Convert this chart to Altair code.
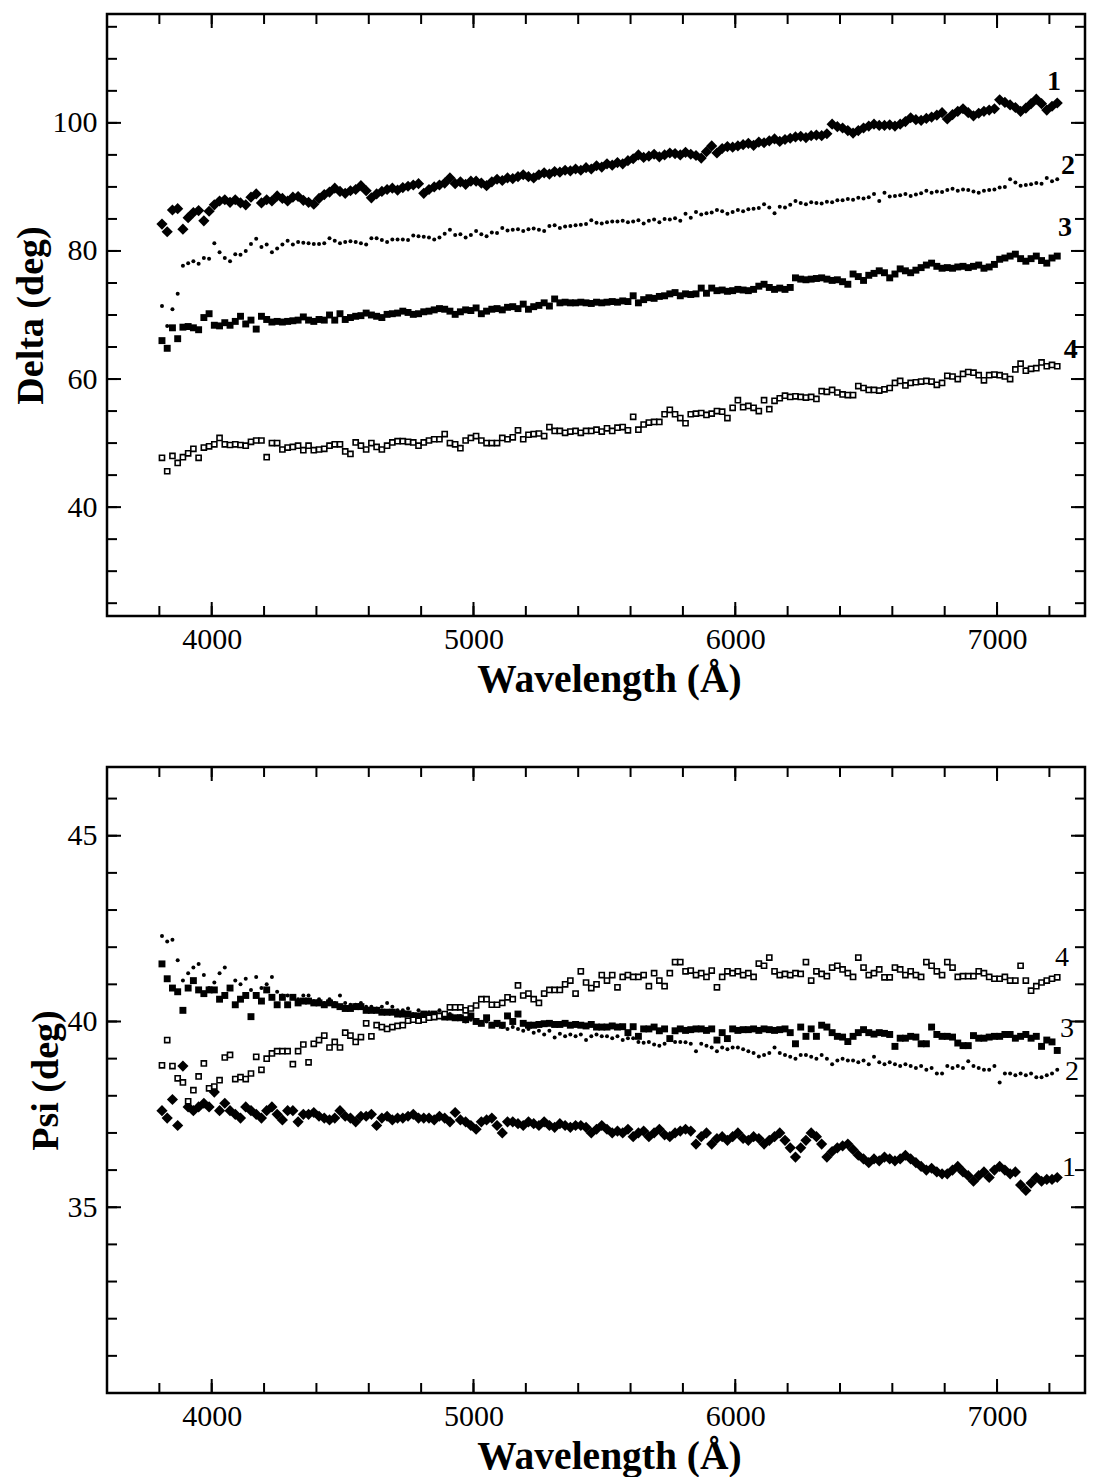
import altair as alt
import pandas as pd

# ---------------- data ----------------
WAVELENGTH = list(range(3810, 7231, 20))   # sampling grid, 172 points
SERIES = ["1", "2", "3", "4"]

DELTA_1 = [
    84.2, 83.0, 86.4, 86.6, 83.4, 85.2, 86.0, 86.3, 84.7, 86.2,
    87.2, 87.8, 88.0, 87.6, 88.0, 87.5, 87.2, 88.4, 88.9, 87.5,
    88.0, 87.8, 88.6, 88.2, 87.8, 88.4, 88.5, 87.9, 87.6, 87.3,
    88.2, 88.8, 89.2, 89.8, 89.3, 89.0, 89.4, 89.6, 90.2, 89.4,
    88.3, 88.9, 89.3, 89.6, 89.8, 89.5, 89.9, 90.1, 90.3, 90.5,
    89.0, 89.6, 90.0, 90.3, 90.6, 91.4, 90.5, 90.8, 90.4, 90.9,
    90.9, 90.6, 90.2, 90.8, 91.2, 91.0, 91.4, 91.3, 91.6, 91.9,
    91.6, 91.4, 91.9, 92.2, 92.0, 92.4, 92.3, 92.6, 92.5, 92.8,
    92.6, 93.0, 92.8, 93.3, 93.1, 93.6, 93.4, 93.8, 93.6, 94.1,
    94.4, 95.0, 94.6, 94.8, 95.1, 94.7, 95.0, 95.3, 95.2, 95.0,
    95.4, 95.1, 94.9, 94.5, 95.5, 96.4, 95.3, 96.0, 96.3, 96.2,
    96.4, 96.6, 96.8, 96.5, 97.0, 96.9, 97.2, 97.5, 97.1, 97.4,
    97.6, 97.8, 97.9, 97.7, 98.0, 98.1, 98.0, 98.3, 99.8, 99.4,
    99.2, 98.8, 98.4, 98.8, 99.2, 99.5, 99.8, 99.6, 99.6, 99.7,
    99.5, 99.8, 100.2, 100.8, 100.5, 100.4, 100.7, 100.9, 101.2, 101.6,
    100.6, 101.3, 101.8, 102.2, 101.6, 101.1, 101.5, 101.8, 102.0, 102.2,
    103.6, 103.2, 102.8, 102.4, 101.8, 102.3, 103.0, 103.7, 103.0, 102.0,
    102.6, 103.1,
]
DELTA_2 = [
    71.4, 68.3, 70.9, 73.3, 77.7, 78.1, 78.4, 78.0, 78.9, 78.8,
    81.2, 79.8, 78.9, 78.4, 79.5, 79.4, 80.0, 81.1, 81.9, 80.6,
    81.0, 79.8, 80.4, 81.0, 81.6, 81.0, 81.4, 81.3, 81.2, 81.1,
    81.1, 81.2, 82.0, 81.6, 81.2, 81.4, 81.5, 81.4, 81.2, 81.0,
    82.0, 82.0, 81.7, 81.4, 81.8, 81.8, 81.8, 81.7, 82.4, 82.3,
    82.2, 82.1, 81.8, 82.1, 82.7, 83.3, 82.5, 82.6, 82.1, 82.5,
    83.1, 82.6, 82.3, 82.9, 82.8, 83.6, 83.2, 83.3, 83.4, 83.1,
    83.4, 83.5, 83.3, 83.1, 83.9, 84.0, 83.6, 83.8, 83.9, 84.0,
    84.1, 84.2, 84.8, 84.4, 84.3, 84.5, 84.6, 84.6, 84.7, 84.5,
    84.6, 84.8, 84.3, 84.7, 84.9, 84.5, 85.0, 84.9, 85.1, 84.7,
    85.8, 85.2, 86.1, 85.7, 85.9, 86.0, 86.4, 86.2, 85.8, 86.1,
    86.4, 86.2, 86.5, 86.6, 86.7, 87.3, 86.8, 85.9, 86.9, 86.8,
    87.2, 87.8, 87.5, 87.3, 87.6, 87.5, 87.4, 87.7, 87.6, 87.9,
    87.9, 88.1, 88.0, 88.3, 88.2, 88.4, 88.9, 87.8, 89.1, 88.5,
    88.6, 88.7, 88.9, 88.6, 88.8, 89.0, 89.4, 89.1, 89.3, 89.2,
    89.5, 89.7, 89.4, 89.6, 89.5, 89.3, 89.1, 89.4, 89.5, 89.6,
    89.9, 90.0, 91.2, 90.7, 90.2, 90.3, 90.4, 90.6, 90.5, 91.4,
    90.9, 91.2,
]
DELTA_3 = [
    66.0, 64.8, 68.0, 66.3, 68.1, 68.2, 68.0, 67.7, 69.6, 70.2,
    68.4, 68.3, 68.8, 68.4, 69.0, 69.8, 68.6, 69.2, 67.8, 69.8,
    69.3, 68.9, 69.0, 68.9, 69.0, 69.1, 69.2, 69.7, 69.2, 69.0,
    69.3, 69.2, 70.0, 69.2, 70.2, 69.3, 69.6, 69.8, 69.9, 70.3,
    70.0, 69.8, 69.6, 70.1, 70.2, 70.3, 70.6, 70.4, 70.1, 70.2,
    70.5, 70.6, 70.8, 71.0, 70.9, 70.6, 70.1, 70.5, 70.8, 70.7,
    71.1, 70.2, 70.6, 70.9, 71.0, 70.8, 71.2, 71.3, 71.0, 71.7,
    70.9, 71.3, 71.5, 71.9, 71.4, 72.5, 71.9, 72.0, 71.9, 71.9,
    72.0, 71.9, 71.8, 72.0, 71.9, 72.0, 72.1, 72.0, 72.2, 72.1,
    73.0, 71.9, 72.4, 72.7, 72.6, 72.9, 73.0, 73.3, 73.5, 73.0,
    73.3, 73.2, 73.3, 74.2, 73.4, 74.2, 73.8, 73.9, 73.7, 73.8,
    74.0, 73.9, 73.8, 74.0, 74.5, 74.8, 74.3, 74.0, 74.2, 74.0,
    74.3, 75.8, 75.6, 75.5, 75.6, 75.7, 75.8, 75.6, 75.4, 75.5,
    75.2, 74.8, 76.4, 76.0, 75.4, 76.2, 76.5, 76.9, 76.6, 75.8,
    76.4, 77.2, 76.9, 76.6, 77.0, 77.4, 77.8, 78.1, 77.6, 77.3,
    77.4, 77.3, 77.5, 77.6, 77.4, 77.6, 77.8, 77.3, 77.5, 77.9,
    78.7, 78.9, 79.2, 79.5, 78.8, 78.4, 78.8, 79.2, 78.5, 78.1,
    78.9, 79.2,
]
DELTA_4 = [
    47.7, 45.6, 48.0, 46.9, 47.8, 48.4, 49.1, 47.7, 49.3, 49.5,
    49.8, 50.8, 49.8, 49.7, 49.8, 49.7, 49.6, 50.2, 50.4, 50.4,
    47.8, 50.0, 50.0, 49.0, 49.3, 49.4, 49.6, 48.9, 49.6, 48.9,
    49.0, 49.1, 49.6, 49.8, 49.8, 48.7, 48.3, 50.1, 49.6, 49.0,
    50.0, 49.4, 49.0, 49.6, 50.1, 50.3, 50.3, 50.2, 50.1, 49.6,
    50.1, 50.4, 50.6, 50.6, 51.4, 50.0, 49.8, 49.2, 50.4, 50.8,
    51.1, 50.4, 50.0, 50.0, 50.0, 50.8, 50.6, 50.9, 52.0, 50.6,
    51.3, 51.4, 51.5, 51.1, 52.5, 51.9, 51.9, 51.6, 51.8, 51.9,
    51.6, 51.9, 51.9, 52.1, 51.8, 52.3, 51.9, 52.4, 52.5, 52.0,
    54.1, 52.1, 52.9, 53.2, 53.3, 53.3, 54.5, 55.2, 54.5, 53.9,
    53.1, 54.5, 54.6, 54.7, 54.4, 54.6, 55.0, 54.9, 53.9, 55.5,
    56.7, 55.6, 55.8, 55.5, 55.0, 56.7, 55.3, 56.6, 57.0, 57.4,
    57.2, 57.3, 57.2, 57.1, 57.2, 56.9, 58.1, 58.0, 58.3, 57.9,
    57.6, 57.5, 57.5, 58.9, 58.6, 58.3, 58.3, 58.2, 58.4, 58.6,
    59.4, 59.7, 59.0, 59.4, 59.5, 59.6, 59.7, 59.6, 59.1, 59.4,
    60.5, 60.4, 60.0, 60.8, 61.1, 61.0, 60.6, 59.8, 60.6, 60.7,
    60.6, 60.4, 60.0, 61.5, 62.4, 61.3, 61.6, 61.7, 62.6, 62.0,
    62.2, 62.0,
]

PSI_1 = [
    37.6, 37.4, 37.9, 37.2, 38.8, 37.7, 37.6, 37.7, 37.8, 37.7,
    38.1, 37.6, 37.8, 37.6, 37.5, 37.4, 37.7, 37.6, 37.5, 37.4,
    37.6, 37.7, 37.5, 37.35, 37.6, 37.6, 37.3, 37.5, 37.5, 37.55,
    37.45, 37.4, 37.35, 37.4, 37.6, 37.45, 37.4, 37.3, 37.45, 37.45,
    37.5, 37.2, 37.4, 37.45, 37.35, 37.4, 37.4, 37.45, 37.5, 37.4,
    37.4, 37.4, 37.35, 37.45, 37.4, 37.3, 37.55, 37.35, 37.3, 37.2,
    37.1, 37.3, 37.35, 37.4, 37.2, 37.0, 37.3, 37.3, 37.25, 37.2,
    37.3, 37.25, 37.2, 37.3, 37.2, 37.15, 37.25, 37.2, 37.15, 37.2,
    37.2, 37.15, 37.0, 37.1, 37.2, 37.1, 37.0, 37.05, 37.0, 37.1,
    36.9, 37.0, 37.05, 36.9, 37.0, 37.1, 36.95, 36.9, 37.0, 37.05,
    37.1, 37.05, 36.7, 36.9, 37.0, 36.7, 36.85, 36.9, 36.8, 36.9,
    37.0, 36.85, 36.8, 36.9, 36.85, 36.7, 36.8, 36.9, 37.0, 36.8,
    36.6, 36.35, 36.6, 36.8, 37.0, 36.9, 36.7, 36.35, 36.5, 36.6,
    36.65, 36.7, 36.55, 36.4, 36.3, 36.2, 36.3, 36.25, 36.35, 36.3,
    36.25, 36.3, 36.4, 36.3, 36.2, 36.1, 36.0, 36.05, 35.95, 35.9,
    35.9, 36.0, 36.1, 35.95, 35.85, 35.7, 35.85, 35.95, 35.8, 36.0,
    36.1, 36.0, 35.9, 35.95, 35.6, 35.45, 35.65, 35.8, 35.7, 35.75,
    35.75, 35.8,
]
PSI_2 = [
    42.3, 42.15, 42.2, 41.65, 41.1, 41.3, 41.45, 41.55, 41.25, 40.9,
    41.05, 41.3, 41.45, 40.9, 41.1, 41.0, 41.15, 40.85, 41.2, 40.9,
    41.0, 41.2, 40.8, 40.7, 40.7, 40.65, 40.6, 40.7, 40.7, 40.55,
    40.6, 40.5, 40.6, 40.5, 40.7, 40.5, 40.45, 40.45, 40.5, 40.4,
    40.4, 40.35, 40.4, 40.5, 40.4, 40.3, 40.3, 40.35, 40.2, 40.3,
    40.2, 40.25, 40.2, 40.3, 40.15, 40.2, 40.1, 40.15, 40.0, 40.05,
    40.0, 39.95, 40.0, 39.9, 39.9, 39.85, 39.8, 39.85, 39.8, 39.75,
    39.8, 39.7, 39.75, 39.65, 39.75, 39.57, 39.67, 39.6, 39.65, 39.6,
    39.65, 39.5, 39.6, 39.65, 39.6, 39.6, 39.55, 39.6, 39.5, 39.55,
    39.55, 39.45, 39.43, 39.45, 39.38, 39.35, 39.4, 39.5, 39.45, 39.45,
    39.44, 39.4, 39.2, 39.4, 39.35, 39.3, 39.2, 39.3, 39.25, 39.3,
    39.3, 39.25, 39.2, 39.15, 39.06, 39.1, 39.15, 39.3, 39.15, 39.1,
    39.05, 39.0, 39.1, 39.1, 39.05, 39.0, 39.1, 39.0, 38.85, 38.95,
    39.0, 38.95, 38.95, 38.9, 38.95, 38.85, 39.05, 38.9, 38.85, 38.9,
    38.85, 38.8, 38.85, 38.8, 38.75, 38.8, 38.7, 38.75, 38.6, 38.6,
    38.8, 38.75, 38.8, 38.75, 38.93, 38.8, 38.75, 38.7, 38.7, 38.8,
    38.36, 38.6, 38.6, 38.55, 38.6, 38.55, 38.6, 38.5, 38.5, 38.55,
    38.6, 38.7,
]
PSI_3 = [
    41.55, 41.15, 40.9, 40.8, 40.3, 40.9, 41.1, 40.85, 40.75, 40.85,
    40.85, 40.6, 40.7, 40.9, 40.45, 40.6, 40.7, 40.13, 40.7, 40.55,
    40.85, 40.65, 40.45, 40.65, 40.45, 40.65, 40.5, 40.55, 40.55, 40.5,
    40.5, 40.45, 40.5, 40.45, 40.4, 40.35, 40.35, 40.4, 40.4, 40.3,
    40.3, 40.3, 40.25, 40.25, 40.25, 40.2, 40.2, 40.2, 40.15, 40.15,
    40.2, 40.15, 40.2, 40.15, 40.12, 40.12, 40.1, 40.1, 40.05, 40.15,
    40.0, 39.95, 40.1, 39.9, 39.95, 39.9, 40.15, 40.0, 40.2, 39.95,
    39.9, 39.9, 39.92, 39.94, 39.95, 39.92, 39.92, 39.95, 39.9, 39.92,
    39.9, 39.88, 39.92, 39.85, 39.85, 39.85, 39.88, 39.85, 39.86, 39.7,
    39.86, 39.6, 39.8, 39.8, 39.85, 39.75, 39.8, 39.54, 39.75, 39.8,
    39.76, 39.78, 39.8, 39.8, 39.76, 39.8, 39.5, 39.7, 39.54, 39.8,
    39.76, 39.78, 39.78, 39.8, 39.76, 39.8, 39.78, 39.76, 39.78, 39.8,
    39.7, 39.4, 39.85, 39.6, 39.8, 39.6, 39.9, 39.85, 39.7, 39.6,
    39.58, 39.46, 39.6, 39.7, 39.78, 39.7, 39.66, 39.7, 39.68, 39.65,
    39.33, 39.55, 39.55, 39.6, 39.58, 39.4, 39.4, 39.85, 39.65, 39.6,
    39.6, 39.58, 39.42, 39.35, 39.35, 39.62, 39.55, 39.55, 39.58, 39.6,
    39.6, 39.65, 39.65, 39.55, 39.6, 39.65, 39.55, 39.6, 39.33, 39.5,
    39.45, 39.22,
]
PSI_4 = [
    38.82, 39.5, 38.8, 38.47, 38.36, 37.85, 38.15, 38.52, 38.87, 38.2,
    38.25, 38.42, 39.03, 39.1, 38.45, 38.5, 38.45, 38.6, 39.05, 38.7,
    39.0, 39.14, 39.2, 39.2, 39.2, 38.85, 39.2, 39.38, 38.9, 39.4,
    39.5, 39.62, 39.3, 39.45, 39.3, 39.7, 39.62, 39.45, 39.58, 39.95,
    39.6, 39.9, 39.85, 39.8, 39.85, 39.88, 39.9, 40.02, 40.05, 40.02,
    40.05, 40.1, 40.12, 40.15, 40.2, 40.38, 40.38, 40.38, 40.3, 40.35,
    40.43, 40.6, 40.6, 40.45, 40.45, 40.5, 40.65, 40.6, 40.97, 40.7,
    40.75, 40.6, 40.5, 40.75, 40.85, 40.85, 40.85, 41.0, 41.1, 40.75,
    41.35, 41.05, 40.9, 41.0, 41.25, 41.1, 41.25, 40.92, 41.2, 41.25,
    41.2, 41.2, 41.25, 40.95, 41.3, 41.1, 40.95, 41.3, 41.6, 41.6,
    41.35, 41.37, 41.25, 41.3, 41.2, 41.37, 40.92, 41.2, 41.35, 41.3,
    41.35, 41.25, 41.3, 41.2, 41.56, 41.5, 41.72, 41.35, 41.25, 41.28,
    41.25, 41.3, 41.28, 41.6, 41.1, 41.35, 41.28, 41.22, 41.45, 41.5,
    41.4, 41.3, 41.2, 41.72, 41.45, 41.25, 41.3, 41.4, 41.19, 41.19,
    41.45, 41.4, 41.25, 41.35, 41.25, 41.2, 41.6, 41.5, 41.35, 41.25,
    41.6, 41.45, 41.2, 41.22, 41.22, 41.22, 41.35, 41.3, 41.2, 41.15,
    41.15, 41.2, 41.1, 41.1, 41.5, 41.1, 40.83, 40.95, 41.05, 41.1,
    41.15, 41.19,
]

# curve labels (anchor in data coordinates)
DELTA_LABEL_X = [7218, 7271, 7260, 7282]
DELTA_LABEL_Y = [106.4, 93.3, 83.6, 64.5]
PSI_LABEL_X = [7275, 7286, 7267, 7248]
PSI_LABEL_Y = [36.05, 38.63, 39.81, 41.72]

# axis tick positions / labels
X_LABELS = [4000, 5000, 6000, 7000]
X_TICKS = [3800, 4000, 4200, 4400, 4600, 4800, 5000, 5200, 5400, 5600,
           5800, 6000, 6200, 6400, 6600, 6800, 7000, 7200]
DELTA_LABELS = [40, 60, 80, 100]
DELTA_TICKS = [25, 30, 35, 40, 45, 50, 55, 60, 65, 70, 75, 80, 85, 90,
               95, 100, 105, 110, 115]
PSI_LABELS = [35, 40, 45]
PSI_TICKS = [31, 32, 33, 34, 35, 36, 37, 38, 39, 40, 41, 42, 43, 44, 45, 46]

# ---------------- styling ----------------
FONT = "Liberation Serif"
W = 978
X_DOMAIN = [3600, 7336]
MAJOR_LEN = 14
MINOR_LEN = 10

STYLES = {
    "1": dict(shape="diamond", filled=True, size=125, color="black", opacity=1),
    "3": dict(shape="square", filled=True, size=48, color="black", opacity=1),
    "2": dict(shape="circle", filled=True, size=16, color="black", opacity=1),
    "4": dict(shape="square", filled=True, size=26, fill="white",
              stroke="black", strokeWidth=1.6, opacity=1),
}


def panel(values, ydomain, ylabels, yticks, ytitle, H, lab_x, lab_y, lab_weight):
    xs = alt.Scale(domain=X_DOMAIN, nice=False, zero=False)
    ys = alt.Scale(domain=ydomain, nice=False, zero=False)
    xaxis = alt.Axis(values=X_LABELS, format="d", title="Wavelength (Å)",
                     titleX=502)
    yaxis = alt.Axis(values=ylabels, format="d", title=ytitle)
    xenc = alt.X("wavelength:Q", scale=xs, axis=xaxis)
    yenc = alt.Y("value:Q", scale=ys, axis=yaxis)
    layers = []
    for key in ["1", "3", "2", "4"]:
        df = pd.DataFrame({"wavelength": WAVELENGTH, "value": values[key]})
        layers.append(alt.Chart(df).mark_point(**STYLES[key]).encode(x=xenc, y=yenc))

    # inward tick marks on all four sides of the frame
    for ticks, length in ((X_TICKS, MINOR_LEN), (X_LABELS, MAJOR_LEN)):
        base = alt.Chart(pd.DataFrame({"wavelength": ticks})).mark_rule(
            color="black", strokeWidth=2)
        layers.append(base.encode(x=xenc, y=alt.value(H), y2=alt.value(H - length)))
        layers.append(base.encode(x=xenc, y=alt.value(0), y2=alt.value(length)))
    for ticks, length in ((yticks, MINOR_LEN), (ylabels, MAJOR_LEN)):
        base = alt.Chart(pd.DataFrame({"value": ticks})).mark_rule(
            color="black", strokeWidth=2)
        layers.append(base.encode(y=yenc, x=alt.value(0), x2=alt.value(length)))
        layers.append(base.encode(y=yenc, x=alt.value(W), x2=alt.value(W - length)))

    lab = pd.DataFrame({"wavelength": lab_x, "value": lab_y, "label": SERIES})
    layers.append(
        alt.Chart(lab).mark_text(font=FONT, fontSize=28, fontWeight=lab_weight,
                                 color="black", align="center", baseline="middle")
        .encode(x=xenc, y=yenc, text="label:N")
    )
    return alt.layer(*layers).properties(width=W, height=H)


top = panel({"1": DELTA_1, "2": DELTA_2, "3": DELTA_3, "4": DELTA_4},
            [23, 117], DELTA_LABELS, DELTA_TICKS, "Delta (deg)", 602,
            DELTA_LABEL_X, DELTA_LABEL_Y, "bold")
bottom = panel({"1": PSI_1, "2": PSI_2, "3": PSI_3, "4": PSI_4},
               [30, 46.85], PSI_LABELS, PSI_TICKS, "Psi (deg)", 626,
               PSI_LABEL_X, PSI_LABEL_Y, "normal")

chart = (
    alt.vconcat(top, bottom, spacing=64)
    .properties(padding={"left": 2, "top": 3, "right": 0, "bottom": 0},
                background="white")
    .configure_view(stroke="black", strokeWidth=2.5)
    .configure_axis(labelFont=FONT, labelFontSize=30, labelColor="black",
                    titleFont=FONT, titleFontSize=38, titleFontWeight="bold",
                    titleColor="black", grid=False, ticks=False, domain=False,
                    tickSize=0)
    .configure_axisX(labelPadding=8, titlePadding=6, titleFontSize=39.5)
    .configure_axisY(labelPadding=10, titlePadding=2)
)

chart.save("out.html", embed_options={"renderer": "svg", "actions": False})
